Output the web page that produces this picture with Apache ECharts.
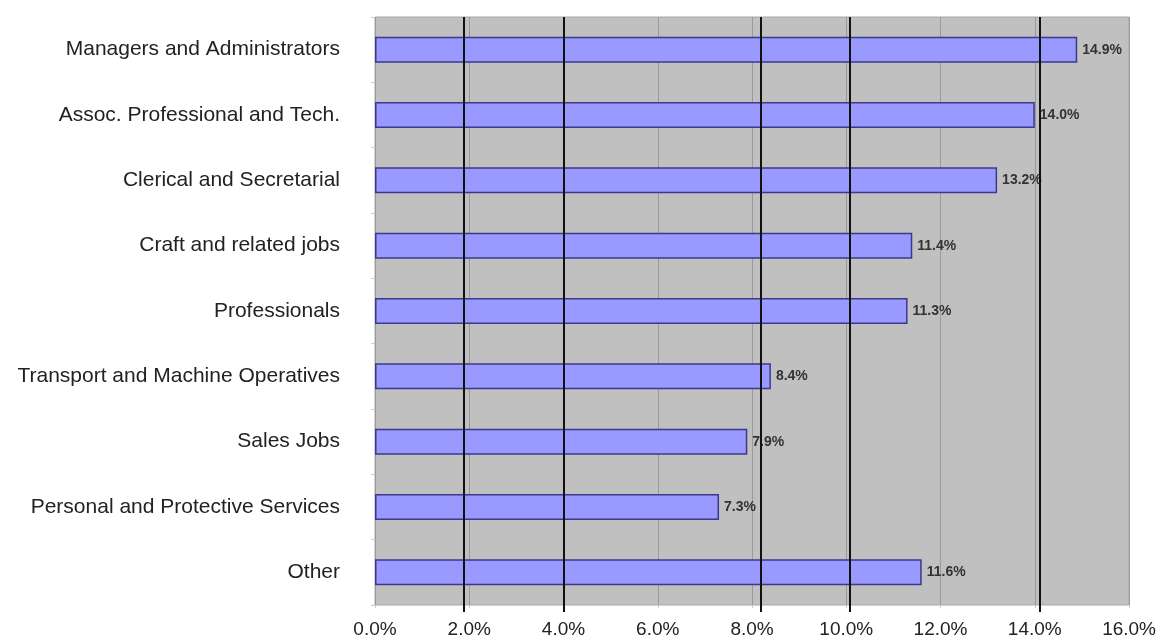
<!DOCTYPE html>
<html>
<head>
<meta charset="utf-8">
<script src="https://cdn.jsdelivr.net/npm/echarts@6/dist/echarts.min.js"></script>
<style>html,body{margin:0;padding:0;background:#fff;}#c{width:1159px;height:639px;}</style>
</head>
<body>
<div id="c"></div>
<script>
const categories = [
  "Managers and Administrators",
  "Assoc. Professional and Tech.",
  "Clerical and Secretarial",
  "Craft and related jobs",
  "Professionals",
  "Transport and Machine Operatives",
  "Sales Jobs",
  "Personal and Protective Services",
  "Other"
];
const values = [14.9, 14.0, 13.2, 11.4, 11.3, 8.4, 7.9, 7.3, 11.6];
const overlayLines = [1.87, 3.95, 8.09, 9.96, 13.93];
const xMin = 0, xMax = 16, xStep = 2;

const chart = echarts.init(document.getElementById('c'), null, {renderer: 'canvas'});
const font = '"Liberation Sans", Arial, Helvetica, sans-serif';
chart.setOption({
  animation: false,
  backgroundColor: '#ffffff',
  grid: [
    {left: 375, right: 21, top: 17, bottom: 34, show: true, backgroundColor: '#c0c0c0', borderColor: '#a8a8a8', borderWidth: 1},
    {left: 375, right: 21, top: 17, bottom: 27, show: false}
  ],
  xAxis: [
    {
      gridIndex: 0, type: 'value', min: xMin, max: xMax, interval: xStep,
      axisLine: {show: false},
      axisTick: {show: true, length: 3, lineStyle: {color: '#cccccc'}},
      splitLine: {show: true, lineStyle: {color: '#9a9a9a', width: 1}},
      axisLabel: {color: '#222', fontSize: 19, fontFamily: font, margin: 15,
        formatter: v => v.toFixed(1) + '%'}
    },
    {gridIndex: 1, type: 'value', min: xMin, max: xMax, show: false}
  ],
  yAxis: [
    {
      gridIndex: 0, type: 'category', data: categories, inverse: true,
      axisLine: {show: false},
      axisTick: {show: true, length: 4, lineStyle: {color: '#cccccc'}},
      axisLabel: {color: '#222', fontSize: 21, fontFamily: font, margin: 35}
    },
    {gridIndex: 1, type: 'value', min: 0, max: 1, show: false}
  ],
  series: [
    {
      type: 'bar', xAxisIndex: 0, yAxisIndex: 0,
      data: values, barWidth: 26,
      itemStyle: {color: '#9999ff', borderColor: '#3a3a8c', borderWidth: 1.5},
      label: {show: true, position: 'right', distance: 5, color: '#333', fontSize: 14,
        fontWeight: 'bold', fontFamily: font, formatter: p => p.value.toFixed(1) + '%'}
    },
    {
      type: 'scatter', xAxisIndex: 1, yAxisIndex: 1, data: [], silent: true,
      markLine: {
        symbol: 'none', silent: true, label: {show: false},
        lineStyle: {color: '#111', width: 2, type: 'solid'},
        data: overlayLines.map(v => ({xAxis: v}))
      }
    }
  ]
});
</script>
</body>
</html>
